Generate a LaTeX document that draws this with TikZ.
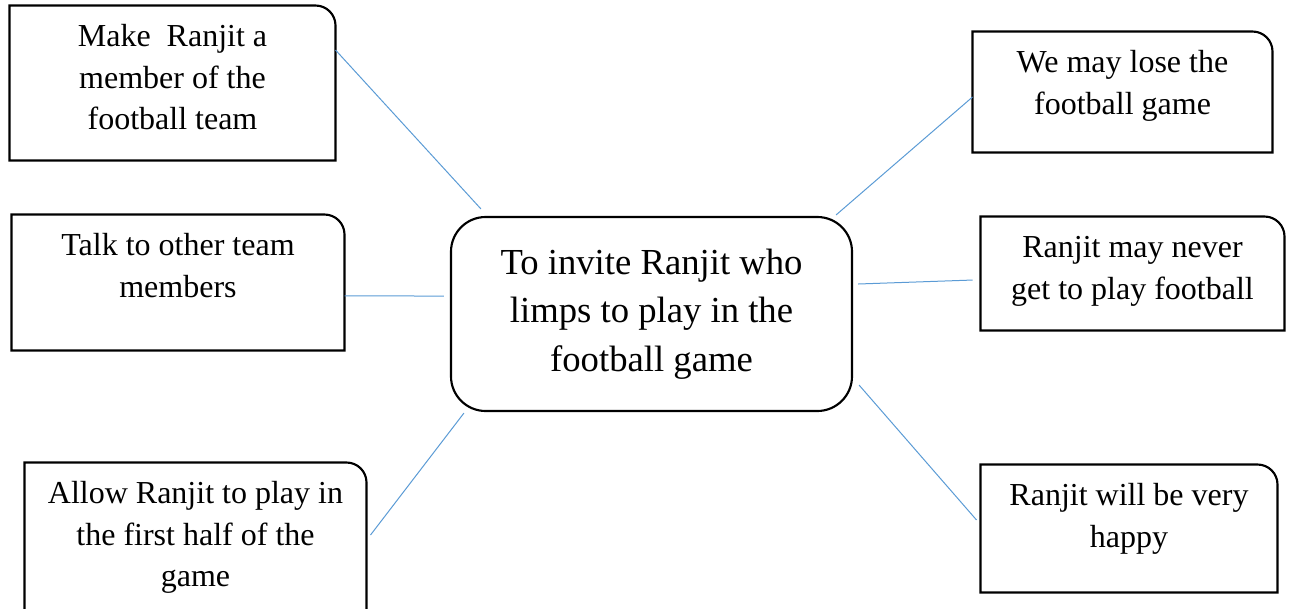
\documentclass[tikz,border=0pt]{standalone}
\usepackage{fontspec}
\setmainfont{Liberation Serif}
\definecolor{linkblue}{RGB}{91,155,213}

\tikzset{every picture/.style={line width=0.75pt}}
\tikzset{
  tab/.style={inner sep=0pt, font=\fontsize{24}{31}\selectfont},
  hub/.style={draw, line width=1.6pt, rounded corners=26pt, inner sep=0pt,
    minimum width=300.75pt, minimum height=145.5pt, align=center,
    font=\fontsize{27.5}{36.5}\selectfont},
  outline/.style={draw=black, line width=1.6pt},
  link/.style={draw=linkblue, line width=0.75pt},
}
% text of a box, set from the top
\newcommand{\tabtext}[3]{\begin{minipage}[c][#2][t]{#1}\centering\vspace*{9pt}\strut #3\end{minipage}}
% box with the top right corner rounded
\newcommand{\taboutline}[1]{\draw[outline] (#1.south east) -- (#1.south west) -- (#1.north west) -- ([xshift=-15pt]#1.north east) arc[start angle=-90, end angle=0, radius=20] -- cycle;}

\begin{document}
\begin{tikzpicture}[x=0.75pt,y=0.75pt,yscale=-1,xscale=1]
\useasboundingbox (0,0) rectangle (1291,608);

% Text Node
\node[tab] (m1) at (172.5,83) {\tabtext{243.75pt}{115.5pt}{Make~ Ranjit a\\member of the\\football team}};
\taboutline{m1}
% Text Node
\node[tab] (m2) at (178,282.5) {\tabtext{249pt}{101.25pt}{Talk to other team\\members}};
\taboutline{m2}
% Text Node
\node[tab] (m3) at (195.5,543) {\tabtext{255.75pt}{120pt}{Allow Ranjit to play in\\the first half of the\\game}};
\taboutline{m3}
% Text Node
\node[tab] (r1) at (1122.5,92) {\tabtext{224.25pt}{90pt}{We may lose the\\football game}};
\taboutline{r1}
% Text Node
\node[tab] (r2) at (1132.5,273.5) {\tabtext{227.25pt}{84.75pt}{Ranjit may never\\get to play football}};
\taboutline{r2}
% Text Node
\node[tab] (r3) at (1129,528.5) {\tabtext{222pt}{95.25pt}{Ranjit will be very\\happy}};
\taboutline{r3}

% Centre
\node[hub] (c) at (651.5,314) {To invite Ranjit who\\limps to play in the\\football game};

% Connection
\draw[link] ([yshift=-24.75pt]m1.east) -- ([xshift=23.25pt,yshift=-5.25pt]c.north west);
% Connection
\draw[link] ([yshift=10.1pt]m2.east) -- ([xshift=-4.5pt,yshift=-13.5pt]c.west);
% Connection
\draw[link] ([xshift=3pt,yshift=-6pt]m3.east) -- ([xshift=10.5pt,yshift=0.75pt]c.south west);
% Connection
\draw[link] ([yshift=3.75pt]r1.west) -- ([xshift=-12.75pt,yshift=-0.75pt]c.north east);
% Connection
\draw[link] ([xshift=-6pt,yshift=4.9pt]r2.west) -- ([xshift=3.75pt,yshift=-22.5pt]c.east);
% Connection
\draw[link] ([xshift=-3pt,yshift=-6.4pt]r3.west) -- ([xshift=4.5pt,yshift=-20.25pt]c.south east);

\end{tikzpicture}
\end{document}
